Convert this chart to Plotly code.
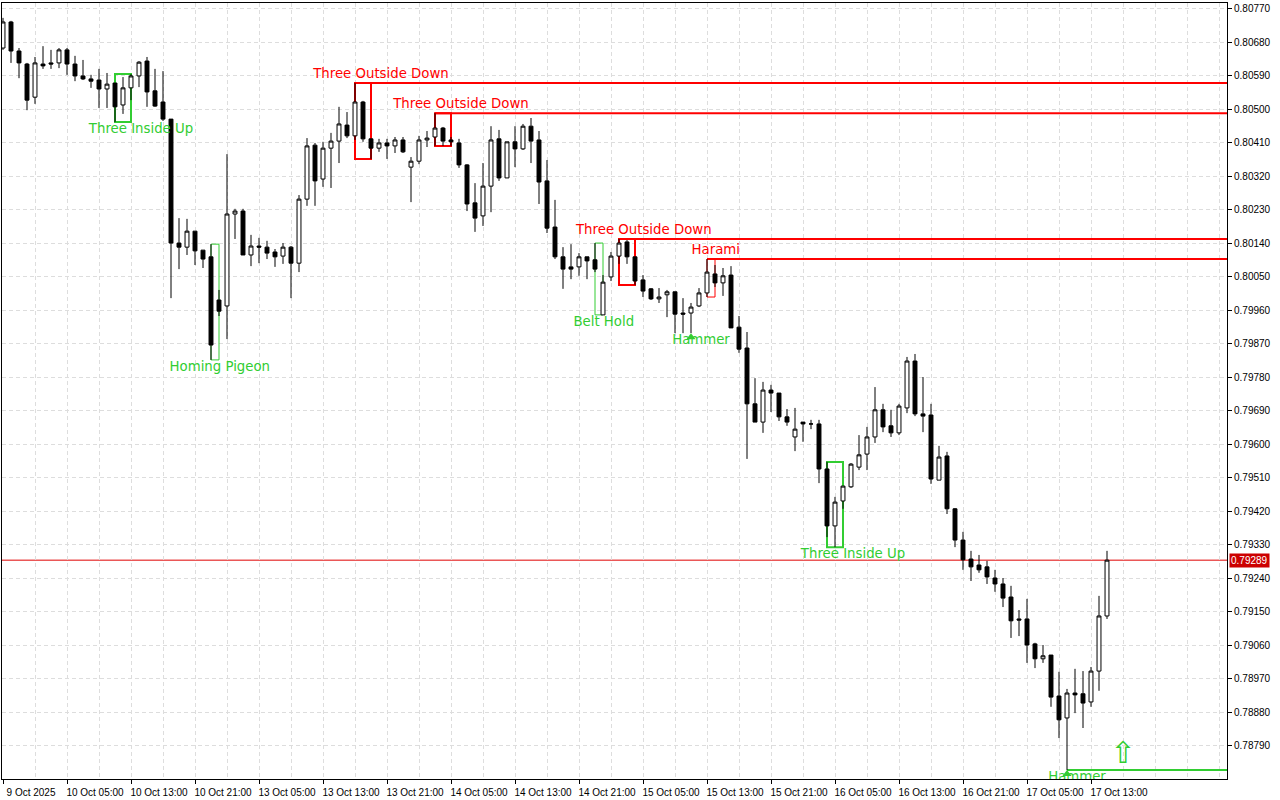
import plotly.graph_objects as go

# ---------------- data ----------------
tick_labels = ["9 Oct 2025", "10 Oct 05:00", "10 Oct 13:00", "10 Oct 21:00", "13 Oct 05:00",
               "13 Oct 13:00", "13 Oct 21:00", "14 Oct 05:00", "14 Oct 13:00", "14 Oct 21:00",
               "15 Oct 05:00", "15 Oct 13:00", "15 Oct 21:00", "16 Oct 05:00", "16 Oct 13:00",
               "16 Oct 21:00", "17 Oct 05:00", "17 Oct 13:00"]

price_labels = ["0.78790", "0.78880", "0.78970", "0.79060", "0.79150", "0.79240", "0.79330",
                "0.79420", "0.79510", "0.79600", "0.79690", "0.79780", "0.79870", "0.79960",
                "0.80050", "0.80140", "0.80230", "0.80320", "0.80410", "0.80500", "0.80590",
                "0.80680", "0.80770"]

opens = [0.80665, 0.80735, 0.80657, 0.80622, 0.80533, 0.80622, 0.80625, 0.80625, 0.80660, 0.80622,
         0.80590, 0.80582, 0.80579, 0.80555, 0.80571, 0.80512, 0.80558, 0.80590, 0.80630, 0.80550,
         0.80520, 0.80474, 0.80141, 0.80130, 0.80173, 0.80122, 0.80104, 0.79988, 0.79972, 0.80219,
         0.80227, 0.80109, 0.80133, 0.80130, 0.80117, 0.80106, 0.80130, 0.80087, 0.80259, 0.80404,
         0.80313, 0.80396, 0.80415, 0.80458, 0.80429, 0.80520, 0.80421, 0.80396, 0.80410, 0.80402,
         0.80418, 0.80345, 0.80361, 0.80418, 0.80426, 0.80450, 0.80418, 0.80410, 0.80351, 0.80249,
         0.80214, 0.80294, 0.80421, 0.80316, 0.80413, 0.80394, 0.80455, 0.80418, 0.80308, 0.80184,
         0.80104, 0.80077, 0.80077, 0.80104, 0.80096, 0.79948, 0.80050, 0.80106, 0.80144, 0.80104,
         0.80042, 0.80018, 0.79991, 0.80002, 0.80010, 0.79953, 0.79953, 0.79972, 0.80007, 0.80058,
         0.80034, 0.80055, 0.79915, 0.79859, 0.79709, 0.79660, 0.79746, 0.79738, 0.79674, 0.79620,
         0.79660, 0.79655, 0.79655, 0.79534, 0.79381, 0.79448, 0.79486, 0.79539, 0.79574, 0.79620,
         0.79693, 0.79650, 0.79631, 0.79698, 0.79824, 0.79682, 0.79679, 0.79504, 0.79569, 0.79427,
         0.79343, 0.79292, 0.79276, 0.79271, 0.79241, 0.79225, 0.79190, 0.79131, 0.79131, 0.79064,
         0.79024, 0.79034, 0.78924, 0.78865, 0.78932, 0.78930, 0.78908, 0.78991, 0.79139]

highs = [0.80746, 0.80738, 0.80665, 0.80625, 0.80641, 0.80670, 0.80660, 0.80665, 0.80665, 0.80644,
         0.80633, 0.80593, 0.80609, 0.80598, 0.80571, 0.80587, 0.80595, 0.80630, 0.80641, 0.80609,
         0.80603, 0.80474, 0.80208, 0.80206, 0.80173, 0.80122, 0.80138, 0.80015, 0.80380, 0.80233,
         0.80233, 0.80163, 0.80155, 0.80147, 0.80125, 0.80141, 0.80133, 0.80270, 0.80423, 0.80410,
         0.80413, 0.80437, 0.80507, 0.80493, 0.80571, 0.80523, 0.80421, 0.80421, 0.80421, 0.80426,
         0.80426, 0.80372, 0.80429, 0.80442, 0.80490, 0.80453, 0.80426, 0.80421, 0.80353, 0.80302,
         0.80356, 0.80455, 0.80445, 0.80413, 0.80455, 0.80461, 0.80477, 0.80442, 0.80364, 0.80257,
         0.80130, 0.80138, 0.80114, 0.80104, 0.80141, 0.80055, 0.80117, 0.80152, 0.80149, 0.80104,
         0.80055, 0.80020, 0.80020, 0.80015, 0.80010, 0.79993, 0.79980, 0.80020, 0.80098, 0.80082,
         0.80074, 0.80079, 0.79945, 0.79902, 0.79778, 0.79768, 0.79760, 0.79738, 0.79695, 0.79698,
         0.79660, 0.79666, 0.79666, 0.79553, 0.79459, 0.79488, 0.79550, 0.79625, 0.79647, 0.79754,
         0.79709, 0.79693, 0.79709, 0.79835, 0.79843, 0.79781, 0.79709, 0.79596, 0.79580, 0.79429,
         0.79365, 0.79314, 0.79303, 0.79287, 0.79263, 0.79241, 0.79220, 0.79155, 0.79185, 0.79067,
         0.79061, 0.79034, 0.78989, 0.78943, 0.78997, 0.78991, 0.79002, 0.79193, 0.79314]

lows = [0.80660, 0.80625, 0.80584, 0.80498, 0.80515, 0.80609, 0.80609, 0.80611, 0.80593, 0.80576,
        0.80579, 0.80558, 0.80504, 0.80504, 0.80466, 0.80488, 0.80525, 0.80560, 0.80507, 0.80507,
        0.80469, 0.79993, 0.80071, 0.80109, 0.80082, 0.80074, 0.79827, 0.79945, 0.79883, 0.80152,
        0.80109, 0.80079, 0.80087, 0.80098, 0.80077, 0.80085, 0.79993, 0.80063, 0.80241, 0.80241,
        0.80292, 0.80289, 0.80356, 0.80423, 0.80418, 0.80413, 0.80367, 0.80386, 0.80367, 0.80383,
        0.80383, 0.80251, 0.80353, 0.80399, 0.80402, 0.80402, 0.80402, 0.80343, 0.80227, 0.80171,
        0.80187, 0.80224, 0.80308, 0.80316, 0.80345, 0.80391, 0.80356, 0.80246, 0.80168, 0.80098,
        0.80018, 0.80044, 0.80053, 0.80044, 0.80063, 0.79948, 0.80039, 0.80085, 0.80085, 0.80028,
        0.79996, 0.79988, 0.79980, 0.79942, 0.79899, 0.79899, 0.79899, 0.79969, 0.79996, 0.80023,
        0.79999, 0.79913, 0.79846, 0.79561, 0.79660, 0.79631, 0.79687, 0.79663, 0.79650, 0.79582,
        0.79607, 0.79641, 0.79496, 0.79351, 0.79324, 0.79427, 0.79483, 0.79531, 0.79531, 0.79604,
        0.79633, 0.79620, 0.79625, 0.79684, 0.79676, 0.79633, 0.79494, 0.79504, 0.79413, 0.79324,
        0.79263, 0.79233, 0.79255, 0.79225, 0.79204, 0.79163, 0.79080, 0.79085, 0.79013, 0.78999,
        0.79013, 0.78895, 0.78811, 0.78725, 0.78878, 0.78838, 0.78895, 0.78938, 0.79131]

closes = [0.80735, 0.80657, 0.80625, 0.80525, 0.80625, 0.80617, 0.80622, 0.80660, 0.80622, 0.80590,
          0.80582, 0.80576, 0.80555, 0.80568, 0.80507, 0.80558, 0.80590, 0.80627, 0.80547, 0.80509,
          0.80474, 0.80141, 0.80130, 0.80173, 0.80120, 0.80098, 0.79867, 0.79958, 0.80219, 0.80227,
          0.80109, 0.80133, 0.80130, 0.80114, 0.80104, 0.80130, 0.80087, 0.80259, 0.80402, 0.80308,
          0.80396, 0.80415, 0.80461, 0.80429, 0.80520, 0.80421, 0.80396, 0.80410, 0.80402, 0.80418,
          0.80386, 0.80361, 0.80418, 0.80423, 0.80450, 0.80415, 0.80413, 0.80351, 0.80246, 0.80208,
          0.80294, 0.80418, 0.80316, 0.80413, 0.80394, 0.80455, 0.80415, 0.80305, 0.80181, 0.80104,
          0.80071, 0.80071, 0.80104, 0.80093, 0.80071, 0.80036, 0.80106, 0.80141, 0.80104, 0.80039,
          0.80012, 0.79991, 0.79996, 0.80010, 0.79950, 0.79950, 0.79969, 0.80007, 0.80063, 0.80034,
          0.80053, 0.79913, 0.79856, 0.79709, 0.79660, 0.79746, 0.79738, 0.79674, 0.79660, 0.79641,
          0.79655, 0.79655, 0.79534, 0.79381, 0.79445, 0.79488, 0.79547, 0.79572, 0.79620, 0.79693,
          0.79647, 0.79631, 0.79703, 0.79824, 0.79682, 0.79676, 0.79507, 0.79566, 0.79427, 0.79343,
          0.79290, 0.79271, 0.79263, 0.79244, 0.79225, 0.79187, 0.79126, 0.79128, 0.79061, 0.79024,
          0.79032, 0.78921, 0.78860, 0.78932, 0.78927, 0.78905, 0.78991, 0.79139, 0.79289]

# candlestick patterns detected on the chart
pat_names = ["Three Inside Up", "Homing Pigeon", "Three Outside Down", "Three Outside Down",
             "Belt Hold", "Three Outside Down", "Hammer", "Harami", "Three Inside Up", "Hammer"]
pat_start = [14, 26, 44, 54, 74, 77, 86, 88, 103, 133]
pat_end = [16, 27, 46, 56, 75, 79, 86, 89, 105, 133]
pat_bullish = [True, True, False, False, True, False, True, False, True, True]
pat_label_x = [17.25, 27.1, 47.25, 57.25, 75.1, 80.1, 87.25, 89.1, 106.25, 134.25]
pat_extend = [False, False, True, True, False, True, False, True, False, True]

signal_index = 140
signal_price = 0.78763
last_price = 0.79289

# ---------------- figure ----------------
GREEN = "#32CD32"
RED = "#FF0000"
n = len(opens)
x = list(range(n))
x_range = [-0.125, 153.0]
y_range = [0.78701, 0.80786]
plot_h = 800 - 3 - 21
ppx = (y_range[1] - y_range[0]) / plot_h

fig = go.Figure()
fig.add_trace(go.Candlestick(
    x=x, open=opens, high=highs, low=lows, close=closes,
    increasing=dict(line=dict(color="black", width=1), fillcolor="white"),
    decreasing=dict(line=dict(color="black", width=1), fillcolor="black"),
    whiskerwidth=0, hoverinfo="skip", showlegend=False))

shapes = []
lab_x, lab_y, lab_t, lab_c = [], [], [], []
tri_x, tri_y = [], []
for name, s, e, bull, lx, ext in zip(pat_names, pat_start, pat_end, pat_bullish, pat_label_x, pat_extend):
    top = max(highs[s:e + 1])
    bot = min(lows[s:e + 1])
    col = GREEN if bull else RED
    if e > s:
        w = 2 if (e - s) >= 2 else 1
        shapes.append(dict(type="rect", xref="x", yref="y", x0=s, x1=e, y0=bot, y1=top,
                           line=dict(color=col, width=w), fillcolor="rgba(0,0,0,0)", layer="between"))
    else:
        tri_x.append(s)
        tri_y.append(bot - 4 * ppx)
    if ext:
        lvl = bot if bull else top
        shapes.append(dict(type="line", xref="x", yref="y", x0=s, x1=x_range[1], y0=lvl, y1=lvl,
                           line=dict(color=col, width=2), layer="between"))
    lab_x.append(lx)
    lab_y.append(bot - 8 * ppx if bull else top + 8 * ppx)
    lab_t.append(name)
    lab_c.append(col)

# current price line
shapes.append(dict(type="line", xref="paper", yref="y", x0=0, x1=1, y0=last_price, y1=last_price,
                   line=dict(color="#E00000", width=1), layer="between"))

fig.add_trace(go.Scatter(x=tri_x, y=tri_y, mode="markers",
                         marker=dict(symbol="triangle-up", size=8, color=GREEN),
                         hoverinfo="skip", showlegend=False))
fig.add_trace(go.Scatter(x=lab_x, y=lab_y, mode="text", text=lab_t,
                         textfont=dict(family="DejaVu Sans", size=13.3, color=lab_c),
                         textposition="middle center", hoverinfo="skip", showlegend=False))
fig.add_trace(go.Scatter(x=[signal_index], y=[signal_price], mode="text", text=["⇧"],
                         textfont=dict(family="DejaVu Sans", size=30, color=GREEN),
                         textposition="middle center", hoverinfo="skip", showlegend=False))

grid = dict(showgrid=True, gridcolor="#DDDDDD", griddash="4px,3px", gridwidth=1)

fig.update_layout(
    width=1280, height=800,
    margin=dict(l=2, r=53, t=3, b=21),
    paper_bgcolor="white", plot_bgcolor="white",
    shapes=shapes,
    showlegend=False,
    font=dict(family="Liberation Sans", size=10, color="black"),
    xaxis=dict(
        range=x_range, rangeslider=dict(visible=False),
        tickmode="array", tickvals=list(range(0, n, 8)), ticktext=tick_labels,
        ticks="outside", ticklen=4, tickcolor="black", ticklabelshift=28, ticklabelstandoff=0,
        tickfont=dict(family="Liberation Sans", size=10, color="black"),
        showline=True, linecolor="black", linewidth=1, mirror=True, zeroline=False,
        minor=dict(dtick=4, tick0=0, showgrid=True, gridcolor="#DDDDDD", griddash="4px,3px", ticks=""),
        **grid),
    yaxis=dict(
        range=y_range, side="right",
        tickmode="array", tickvals=[float(v) for v in price_labels], ticktext=price_labels,
        ticks="outside", ticklen=4, tickcolor="black",
        tickfont=dict(family="Liberation Sans", size=10, color="black"),
        showline=True, linecolor="black", linewidth=1, mirror=True, zeroline=False,
        **grid),
    annotations=[dict(xref="paper", yref="y", x=1, y=last_price, xanchor="left", yanchor="middle",
                      xshift=2, text=f"{last_price:.5f}", showarrow=False,
                      bgcolor="#CC0000", font=dict(color="white", size=10, family="Liberation Sans"),
                      borderpad=1)],
)

fig.write_html("out.html", config={"displayModeBar": False},
               post_script="document.body.style.margin='0';document.body.style.overflow='hidden';")
